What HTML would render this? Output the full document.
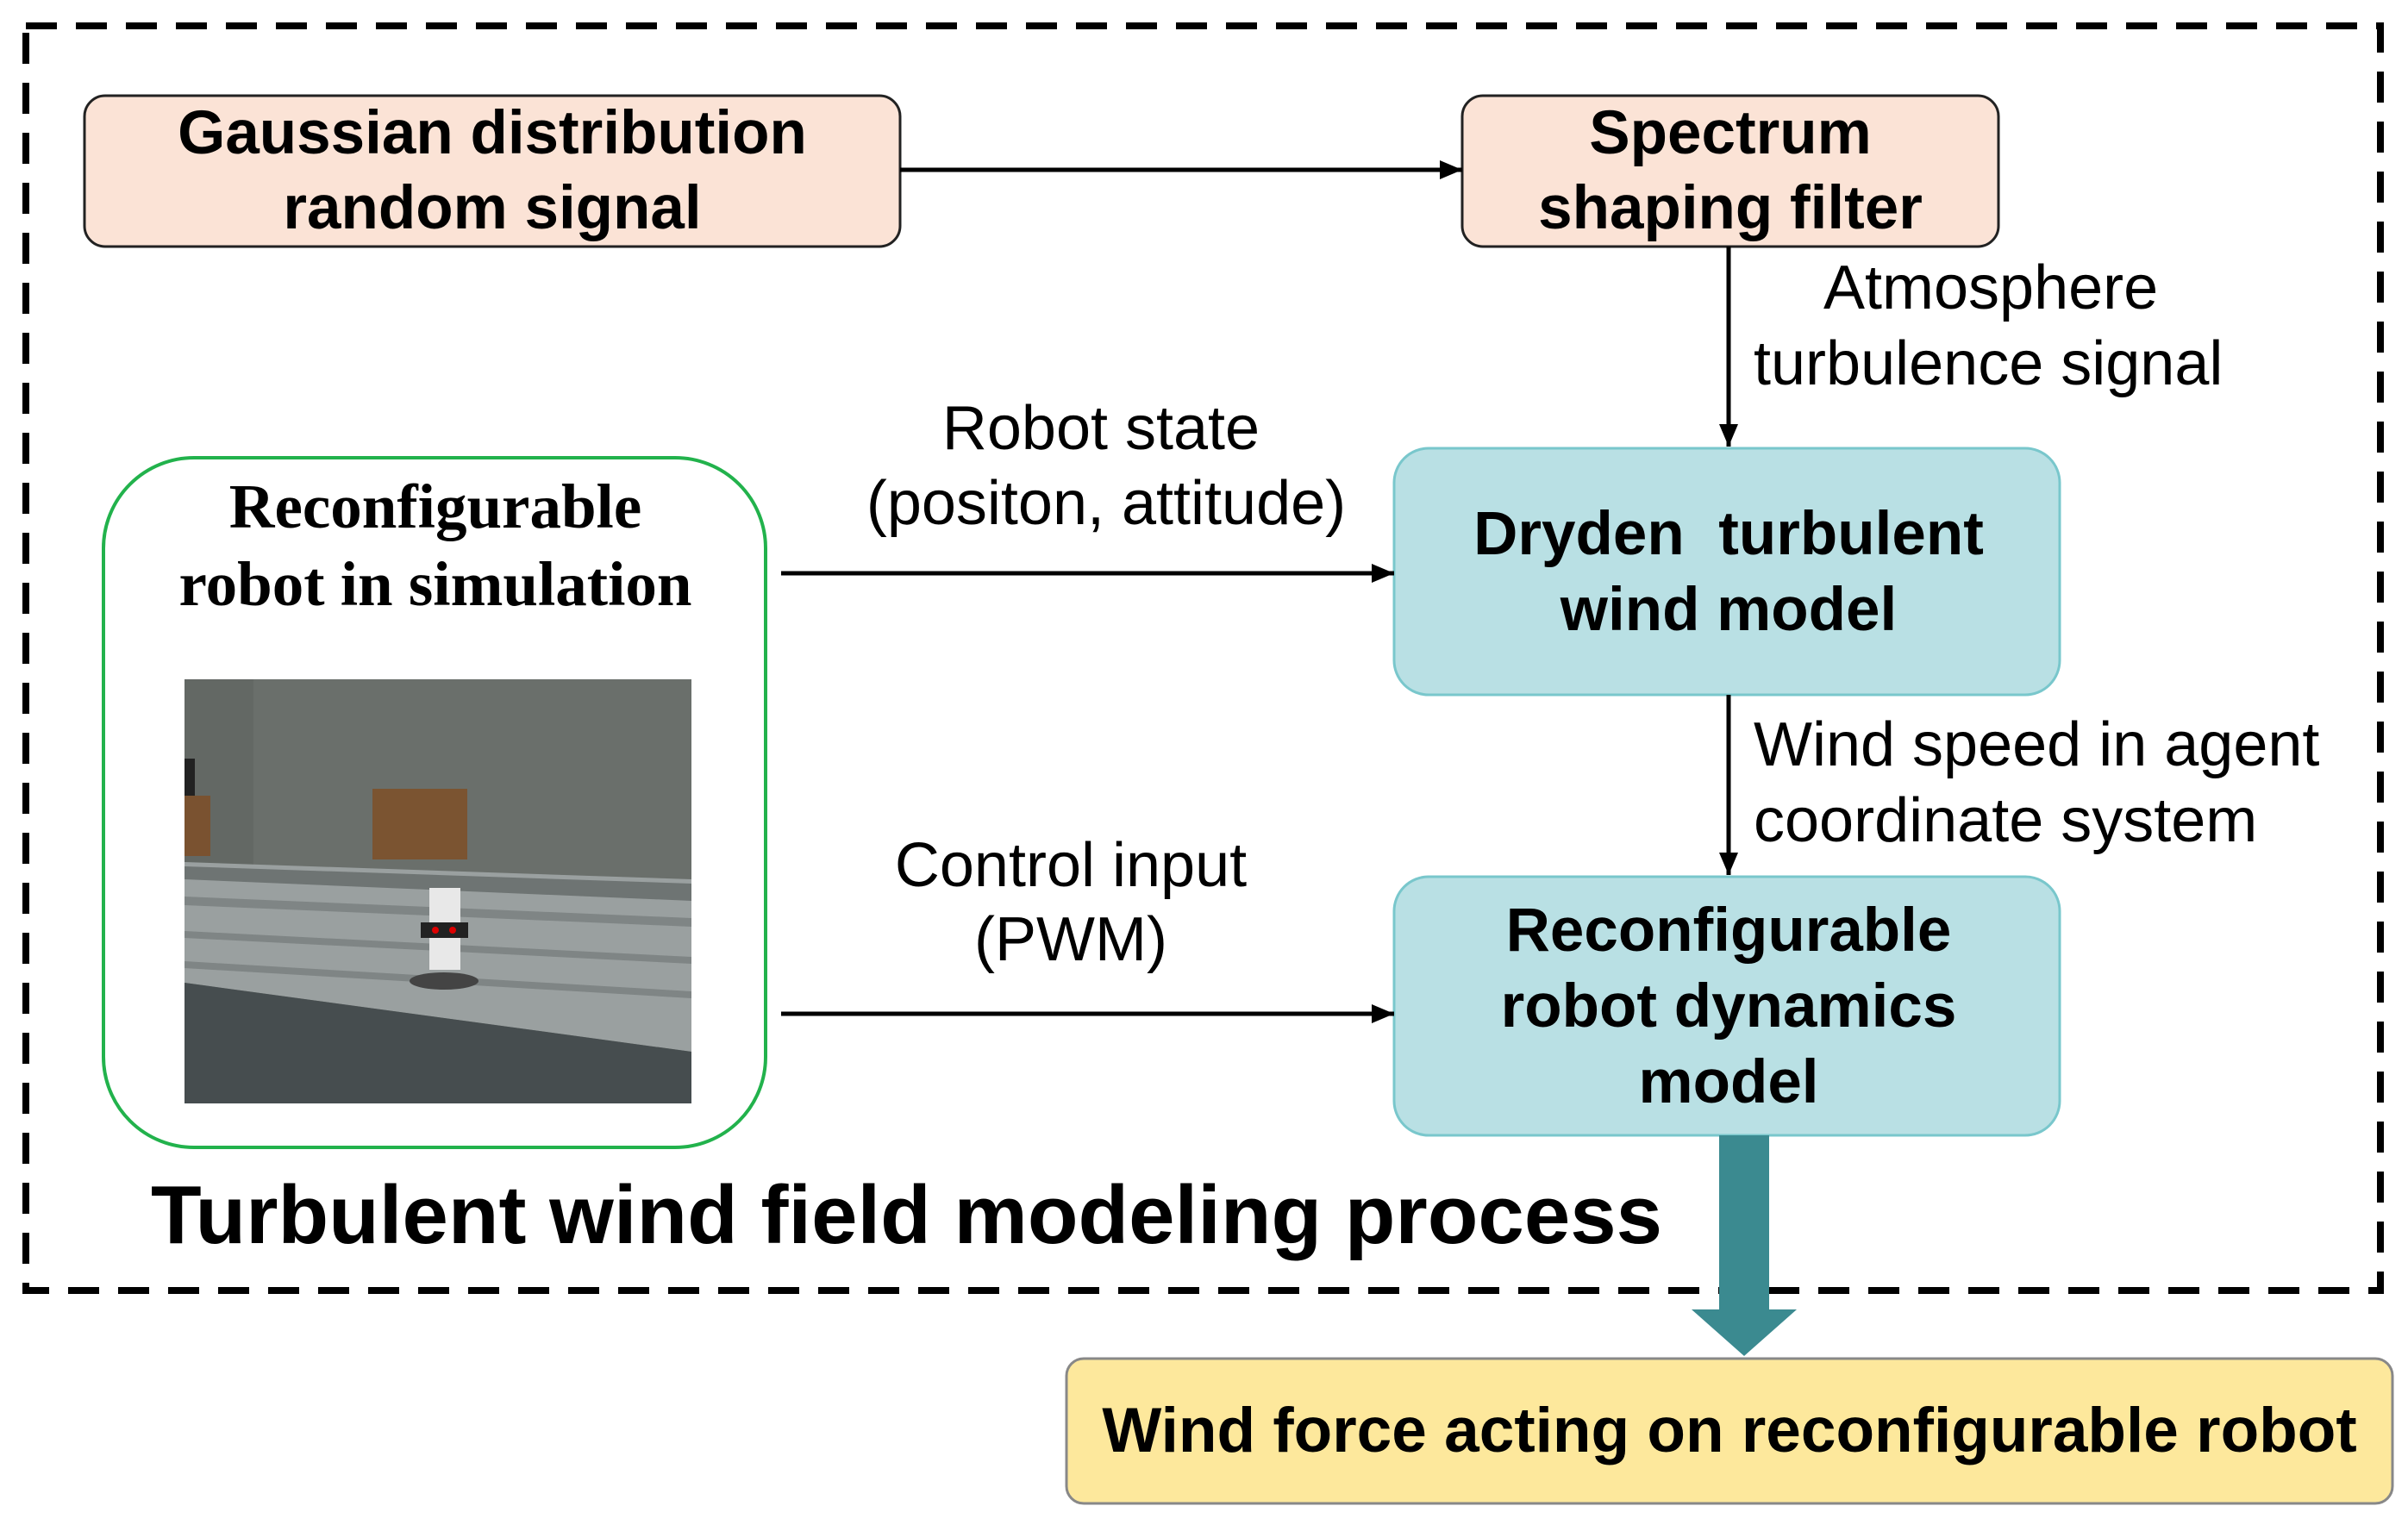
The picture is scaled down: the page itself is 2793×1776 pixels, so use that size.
<!DOCTYPE html>
<html><head><meta charset="utf-8"><style>
html,body{margin:0;padding:0;background:#fff}
svg{display:block}
.b{font-family:"Liberation Sans",sans-serif;font-weight:bold;fill:#000}
.r{font-family:"Liberation Sans",sans-serif;fill:#000}
.s{font-family:"Liberation Serif",serif;font-weight:bold;fill:#000}
</style></head><body>
<svg width="2793" height="1776" viewBox="0 0 2793 1776" xmlns="http://www.w3.org/2000/svg">
<defs>
<marker id="a2" markerWidth="26" markerHeight="22" refX="26" refY="11" orient="auto" markerUnits="userSpaceOnUse"><path d="M0,0 L26,11 L0,22 z" fill="#000"/></marker>
</defs>
<rect x="30" y="30" width="2731" height="1467" fill="none" stroke="#000" stroke-width="8" stroke-dasharray="36,22"/>
<rect x="98" y="111" width="946" height="175" rx="24" fill="#fbe3d6" stroke="#222" stroke-width="3"/>
<text class="b" font-size="71" x="571" y="178" text-anchor="middle">Gaussian distribution</text>
<text class="b" font-size="71" x="571" y="265" text-anchor="middle">random signal</text>
<rect x="1696" y="111" width="622" height="175" rx="24" fill="#fbe3d6" stroke="#222" stroke-width="3"/>
<text class="b" font-size="71" x="2007" y="178" text-anchor="middle">Spectrum</text>
<text class="b" font-size="71" x="2007" y="265" text-anchor="middle">shaping filter</text>
<line x1="1044" y1="197" x2="1696" y2="197" stroke="#000" stroke-width="5" marker-end="url(#a2)"/>
<line x1="2005" y1="286" x2="2005" y2="518" stroke="#000" stroke-width="5" marker-end="url(#a2)"/>
<text class="r" font-size="72" x="2115" y="358">Atmosphere</text>
<text class="r" font-size="72" x="2034" y="446">turbulence signal</text>
<rect x="1617" y="520" width="772" height="286" rx="40" fill="#b9e0e4" stroke="#79c7cc" stroke-width="3"/>
<text class="b" font-size="71" x="2005" y="643" text-anchor="middle" xml:space="preserve">Dryden  turbulent</text>
<text class="b" font-size="71" x="2005" y="731" text-anchor="middle">wind model</text>
<line x1="2005" y1="806" x2="2005" y2="1015" stroke="#000" stroke-width="5" marker-end="url(#a2)"/>
<text class="r" font-size="72" x="2034" y="888">Wind speed in agent</text>
<text class="r" font-size="72" x="2034" y="976">coordinate system</text>
<rect x="1617" y="1017" width="772" height="300" rx="40" fill="#b9e0e4" stroke="#79c7cc" stroke-width="3"/>
<text class="b" font-size="71" x="2005" y="1103" text-anchor="middle">Reconfigurable</text>
<text class="b" font-size="71" x="2005" y="1191" text-anchor="middle">robot dynamics</text>
<text class="b" font-size="71" x="2005" y="1279" text-anchor="middle">model</text>
<rect x="120" y="531" width="768" height="800" rx="105" fill="#fff" stroke="#22b24c" stroke-width="4"/>
<text class="s" font-size="73" x="505" y="612" text-anchor="middle">Reconfigurable</text>
<text class="s" font-size="73" x="505" y="702" text-anchor="middle">robot in simulation</text>
<g>
<rect x="214" y="788" width="588" height="492" fill="#6a6f6b"/>
<rect x="214" y="788" width="80" height="230" fill="#636864"/>
<rect x="214" y="880" width="12" height="60" fill="#222"/>
<rect x="214" y="923" width="30" height="70" fill="#7a5230"/>
<rect x="432" y="915" width="110" height="82" fill="#7b5431"/>
<polygon points="214,1000 802,1020 802,1220 214,1140" fill="#9aa0a0"/>
<polygon points="214,1005 802,1025 802,1045 214,1020" fill="#6e7473"/>
<polygon points="214,1040 802,1065 802,1075 214,1050" fill="#7f8585"/>
<polygon points="214,1080 802,1110 802,1118 214,1088" fill="#7f8585"/>
<polygon points="214,1115 802,1150 802,1158 214,1123" fill="#7f8585"/>
<polygon points="214,1140 802,1220 802,1280 214,1280" fill="#464d4f"/>
<rect x="498" y="1030" width="36" height="95" fill="#e8e8e8"/>
<rect x="488" y="1070" width="55" height="18" fill="#222"/>
<circle cx="505" cy="1079" r="4" fill="#d00"/><circle cx="525" cy="1079" r="4" fill="#d00"/>
<ellipse cx="515" cy="1138" rx="40" ry="10" fill="#444"/>
</g>
<line x1="906" y1="665" x2="1617" y2="665" stroke="#000" stroke-width="5" marker-end="url(#a2)"/>
<text class="r" font-size="72" x="1277" y="521" text-anchor="middle">Robot state</text>
<text class="r" font-size="72" x="1283" y="608" text-anchor="middle">(positon, attitude)</text>
<line x1="906" y1="1176" x2="1617" y2="1176" stroke="#000" stroke-width="5" marker-end="url(#a2)"/>
<text class="r" font-size="72" x="1242" y="1028" text-anchor="middle">Control input</text>
<text class="r" font-size="72" x="1242" y="1114" text-anchor="middle">(PWM)</text>
<text class="b" font-size="96" x="175" y="1442">Turbulent wind field modeling process</text>
<rect x="1994" y="1317" width="58" height="204" fill="#3b8a90"/>
<polygon points="1962,1519 2084,1519 2023,1573" fill="#3b8a90"/>
<rect x="1237" y="1576" width="1538" height="168" rx="20" fill="#fde89c" stroke="#888" stroke-width="3"/>
<text class="b" font-size="73" x="2006" y="1684" text-anchor="middle">Wind force acting on reconfigurable robot</text>
</svg>
</body></html>
